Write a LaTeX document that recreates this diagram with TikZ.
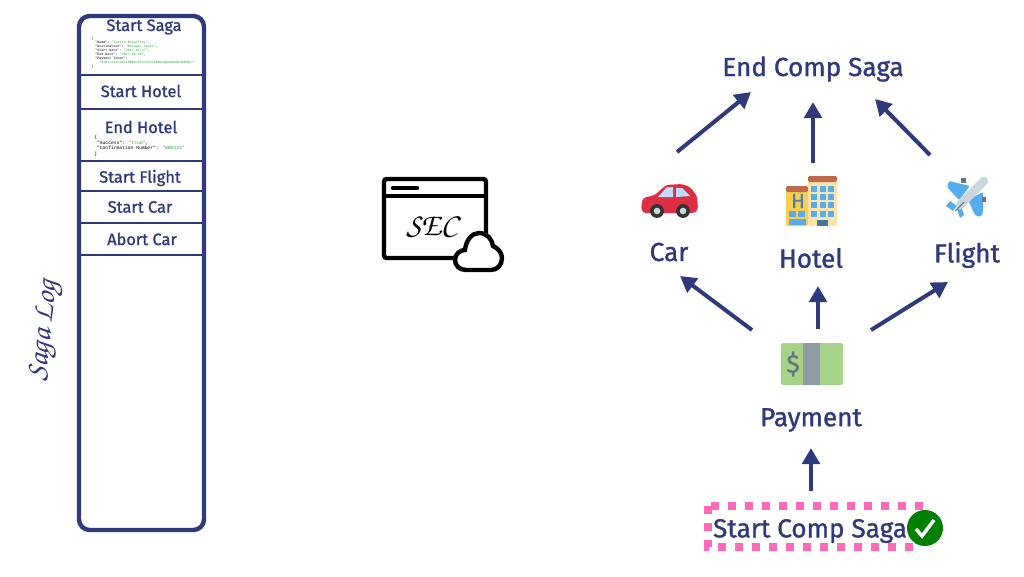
\documentclass[tikz,border=0pt]{standalone}
\usepackage{xcolor}
\usepackage{fontspec}
\setmainfont{Fira Sans}[FakeBold=1.2]
\newfontfamily\jsonfont{Liberation Mono}
\usetikzlibrary{arrows.meta}
\definecolor{navy}{HTML}{2E3A7C}
\definecolor{jsongreen}{HTML}{2E9E3F}
\definecolor{sagapink}{HTML}{FF69B9}
\definecolor{carred}{HTML}{DD2E44}
\definecolor{skyblue}{HTML}{55ACEE}
\definecolor{paleblue}{HTML}{BBDDF5}
\definecolor{steel}{HTML}{CCD6DD}
\definecolor{slategrey}{HTML}{66757F}
\definecolor{roof}{HTML}{C1694F}
\definecolor{sunny}{HTML}{FFCC4D}
\definecolor{sand}{HTML}{FFE3A8}
\definecolor{cashgreen}{HTML}{A6D388}
\newcommand{\scriptface}{\fontencoding{T1}\fontfamily{pzc}\fontshape{it}\selectfont}
\newcommand{\jval}[1]{\textcolor{jsongreen}{#1}}

\begin{document}
\begin{tikzpicture}[x=0.75pt, y=-0.75pt,
  rowlabel/.style={text=navy, font=\fontsize{12.3}{14}\selectfont, inner sep=0pt},
  biglabel/.style={text=navy, font=\fontsize{19.6}{24}\selectfont, inner sep=0pt},
  json/.style={align=left, anchor=north west, inner sep=0pt},
  arr/.style={-{Triangle[length=12pt, width=13pt]}, line width=3pt, draw=navy}]
  \useasboundingbox (0,0) rectangle (1024,576);

  % saga log
  \draw[navy, line width=3.3pt, rounded corners=8pt] (79,16) rectangle (204,530);
  \foreach \y in {75,109,161,191,223,255}
    \draw[navy, line width=1pt] (80,\y) -- (203,\y);
  \node[rowlabel] (startsaga) at (144,27) {Start Saga};
  \node[rowlabel] (starthotel) at (141,91) {Start Hotel};
  \node[rowlabel] (endhotel) at (141,127) {End Hotel};
  \node[rowlabel] (startflight) at (140,178) {Start Flight};
  \node[rowlabel] (startcar) at (140,207) {Start Car};
  \node[rowlabel] (abortcar) at (142,239) {Abort Car};
  \node[json, font=\jsonfont\fontsize{2.5}{3}\selectfont] (sagajson) at (91,37) {\{\\
    \ \ "Name": \jval{"Caitie McCaffrey"},\\
    \ \ "Destination": \jval{"Malaga, Spain"},\\
    \ \ "Start Date": \jval{"2017-05-17"},\\
    \ \ "End Date": \jval{"2017-05-20"},\\
    \ \ "Payment Token":\\
    \ \ \ \ \jval{"0xNTc2I1c2Uk2IMNmyZ5Ic2612Id8bsWppqKMabyDdOQo="}\\
    \}};
  \node[json, font=\jsonfont\fontsize{3.5}{4.2}\selectfont] (hoteljson) at (94,135) {\{\\
    \ "Success": \jval{"true"},\\
    \ "Confirmation Number": \jval{"WBX123"}\\
    \}};
  \node[text=navy, rotate=84, inner sep=0pt, font=\scriptface\fontsize{23}{24}\selectfont] (sagalog) at (46,331) {Saga Log};

  % sec
  \draw[black, line width=3.3pt, rounded corners=2pt] (469,258) -- (384,258) -- (384,179) -- (486,179) -- (486,240);
  \draw[black, line width=3.3pt] (384,196) -- (486,196);
  \draw[black, line width=3.3pt, line cap=round] (393,188) -- (417,188);
  \node[inner sep=0pt, font=\scriptface\fontsize{24}{26}\selectfont] (sec) at (432,227) {SEC};
  \draw[black, fill=white, line width=3.3pt] (466,270) .. controls (459,270) and (455,265) .. (455,260)
    .. controls (455,254) and (460,250) .. (465,250)
    .. controls (466,240) and (472,233) .. (479,233)
    .. controls (487,233) and (492,239) .. (493,246)
    .. controls (498,248) and (502,253) .. (502,258)
    .. controls (502,265) and (497,270) .. (491,270) -- cycle;

  % labels
  \node[biglabel] (endcomp) at (813,69) {End Comp Saga};
  \node[biglabel] (car) at (669,252) {Car};
  \node[biglabel] (hotel) at (811,258) {Hotel};
  \node[biglabel] (flight) at (967,255) {Flight};
  \node[biglabel] (payment) at (811,420) {Payment};
  \coordinate (caricon) at (669,201);
  \coordinate (hotelicon) at (811,201);
  \coordinate (planeicon) at (967,197);

  % car
  \fill[carred, rounded corners=2pt] (643,213) -- (641,207) -- (643,198) -- (655,195) -- (666,185) -- (682,184) -- (690,187) -- (697,196) -- (698,209) -- (695,213) -- cycle;
  \fill[paleblue] (658,197) -- (667,187) -- (673,187) -- (673,197) -- cycle;
  \fill[paleblue] (676,197) -- (676,188) -- (682,188) -- (690,196) -- cycle;
  \foreach \x in {657,683} {
    \fill[black!80] (\x,211) circle (5.2pt);
    \fill[steel] (\x,211) circle (2.5pt);
  }

  % hotel
  \fill[sunny, rounded corners=1pt] (786,190) rectangle (808,226);
  \fill[roof, rounded corners=1pt] (786,192) -- (786,186) -- (808,186) -- (808,192) -- cycle;
  \fill[sand, rounded corners=1pt] (808,181) rectangle (837,226);
  \fill[roof, rounded corners=1pt] (808,182) -- (808,176) -- (837,176) -- (837,182) -- cycle;
  \foreach \x in {811,820,828}
    \foreach \y in {186,194,202,211}
      \fill[skyblue] (\x,\y) rectangle +(6,5.5);
  \foreach \x in {789,798}
    \fill[skyblue] (\x,211) rectangle +(7,6);
  \fill[skyblue] (789,219) rectangle (806,225);
  \fill[skyblue!70!black] (817,220) rectangle (828,226);
  \node[inner sep=0pt, text=skyblue!75!black, font=\fontsize{15}{16}\selectfont] (hotelh) at (798,201) {H};

  % plane
  \fill[skyblue, rounded corners=1pt] (947,187) -- (949,181) -- (970,186) -- (959,200) -- cycle;
  \fill[skyblue, rounded corners=1pt] (983,192) -- (983,213) -- (980,217) -- (975,215) -- (968,200) -- cycle;
  \fill[skyblue] (946,206) -- (950,201) -- (957,206) -- (953,211) -- cycle;
  \fill[skyblue] (957,209) -- (961,206) -- (964,215) -- (960,218) -- cycle;
  \fill[slategrey] (961,178) rectangle (966,183);
  \fill[slategrey] (982,197) rectangle (986,202);
  \draw[steel, line width=6.5pt, line cap=round] (984,181) -- (960,205);
  \draw[slategrey, line width=0.8pt] (955,211) -- (964,202);

  % cash
  \node[fill=cashgreen, rounded corners=1.5pt, minimum width=46.5pt, minimum height=31.5pt, inner sep=0pt] (cash) at (812,364) {};
  \fill[slategrey!60!steel] (803,343) rectangle (820,385);
  \node[inner sep=0pt, text=slategrey, font=\fontsize{19}{20}\selectfont] (dollar) at (793,364) {\$};

  % start comp
  \draw[sagapink, line width=5.5pt, dash pattern=on 6pt off 6.75pt] (708,506) rectangle (919,547);
  \node[biglabel] (startcomp) at (810,531) {Start Comp Saga};
  \node[circle, fill=green!50!black, minimum size=27pt, inner sep=0pt] (done) at (925,528) {};
  \draw[white, line width=2.6pt] (916,529) -- (922,536) -- (934,520);

  % connectors
  \draw[arr] ([shift={(1,-40)}]startcomp.center) -- ([shift={(0,28)}]payment.center);
  \draw[arr] ([shift={(6,-35)}]cash.center) -- ([shift={(7,28)}]hotel.center);
  \draw[arr] ([shift={(-60,-34)}]cash.center) -- ([shift={(11,24)}]car.center);
  \draw[arr] ([shift={(59,-34)}]cash.center) -- ([shift={(-19,27)}]flight.center);
  \draw[arr] ([shift={(8,-49)}]caricon) -- ([shift={(-62,23)}]endcomp.center);
  \draw[arr] ([shift={(2,-38)}]hotelicon) -- ([shift={(0,33)}]endcomp.center);
  \draw[arr] ([shift={(-37,-42)}]planeicon) -- ([shift={(62,30)}]endcomp.center);
\end{tikzpicture}
\end{document}
